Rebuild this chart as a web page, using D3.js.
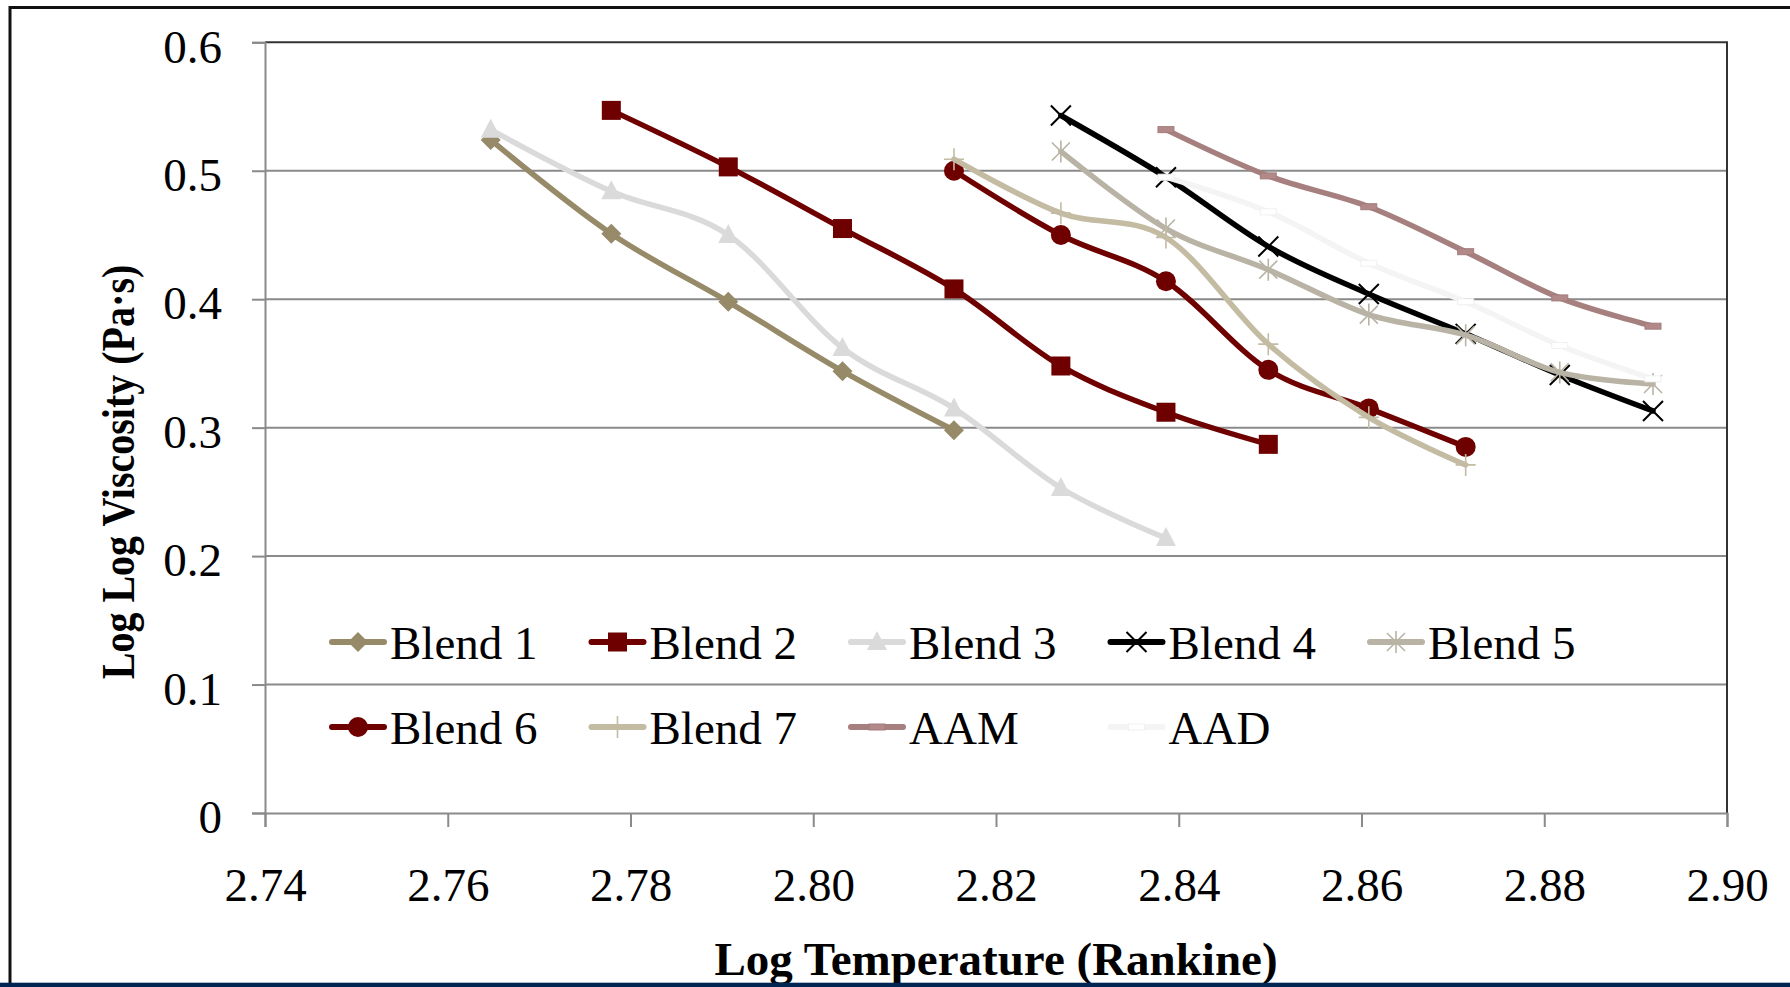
<!DOCTYPE html>
<html>
<head>
<meta charset="utf-8">
<script src="https://cdn.jsdelivr.net/npm/d3@7"></script>
<style>
  body { margin: 0; background: #fff; }
  svg { display: block; }
  text { font-family: "Liberation Serif", "Times New Roman", serif; fill: #000; }
</style>
</head>
<body>
<svg id="chart"></svg>
<script>
// Data
const temps = [2.7647, 2.7779, 2.7907, 2.8032, 2.8154, 2.8271, 2.8386, 2.8498, 2.8608, 2.8714, 2.8817, 2.8919];
const seriesNames = ["Blend 1", "Blend 2", "Blend 3", "Blend 4", "Blend 5", "Blend 6", "Blend 7", "AAM", "AAD"];
const seriesStart = [0, 1, 0, 5, 5, 4, 4, 6, 6]; // index into temps of first point
const blend1 = [0.524, 0.451, 0.398, 0.344, 0.298];
const blend2 = [0.547, 0.503, 0.455, 0.408, 0.348, 0.312, 0.287];
const blend3 = [0.532, 0.484, 0.450, 0.362, 0.315, 0.253, 0.214];
const blend4 = [0.543, 0.495, 0.441, 0.404, 0.373, 0.341, 0.313];
const blend5 = [0.515, 0.455, 0.423, 0.388, 0.372, 0.343, 0.334];
const blend6 = [0.500, 0.450, 0.414, 0.345, 0.315, 0.285];
const blend7 = [0.509, 0.467, 0.448, 0.365, 0.308, 0.271];
const aam = [0.532, 0.496, 0.472, 0.437, 0.401, 0.379];
const aad = [0.495, 0.468, 0.428, 0.398, 0.364, 0.338];
const seriesValues = [blend1, blend2, blend3, blend4, blend5, blend6, blend7, aam, aad];
const xTicks = [2.74, 2.76, 2.78, 2.80, 2.82, 2.84, 2.86, 2.88, 2.90];
const yTicks = [0, 0.1, 0.2, 0.3, 0.4, 0.5, 0.6];

// Styles
const colors = ["#968a69", "#6f0000", "#dadada", "#000000", "#b8b3a5", "#6f0000", "#c4bba3", "#a67f7f", "#f4f4f4"];
const markers = ["diamond", "square", "triangle", "x", "star", "circle", "plus", "dash", "dash"];

const W = 1790, H = 987;
const svg = d3.select("#chart").attr("width", W).attr("height", H);
svg.append("rect").attr("width", W).attr("height", H).attr("fill", "#fff");

const plotL = 265, plotR = 1727, plotT = 42.3, plotB = 813;
const x = d3.scaleLinear().domain([2.74, 2.90]).range([plotL, plotR]);
const y = d3.scaleLinear().domain([0, 0.6]).range([plotB, plotT]);

const gridColor = "#8a8a8a";

// gridlines
svg.append("g").selectAll("line")
  .data(yTicks.filter(d => d > 0 && d < 0.6))
  .enter().append("line")
    .attr("x1", plotL).attr("x2", plotR)
    .attr("y1", d => y(d)).attr("y2", d => y(d))
    .attr("stroke", gridColor).attr("stroke-width", 2);

// plot area top / right border
svg.append("path")
  .attr("d", `M${plotL},${plotT}H${plotR}V${plotB}`)
  .attr("fill", "none").attr("stroke", "#333").attr("stroke-width", 2);

// axes
const yAxis = svg.append("g").attr("transform", `translate(${plotL},0)`)
  .call(d3.axisLeft(y).tickValues(yTicks).tickSize(13).tickPadding(30)
    .tickFormat(d => d === 0 ? "0" : d3.format(".1f")(d)));
const xAxis = svg.append("g").attr("transform", `translate(0,${plotB})`)
  .call(d3.axisBottom(x).tickValues(xTicks).tickSize(14).tickPadding(40)
    .tickFormat(d3.format(".2f")));
[yAxis, xAxis].forEach(a => {
  a.select(".domain").attr("stroke", gridColor).attr("stroke-width", 2);
  a.selectAll(".tick line").attr("stroke", gridColor).attr("stroke-width", 2);
  a.selectAll(".tick text").attr("font-size", 47)
    .attr("font-family", "'Liberation Serif', serif").attr("fill", "#000");
});
yAxis.selectAll(".tick text").attr("dy", "0.42em");
xAxis.selectAll(".tick text").attr("dy", "0.72em");

// axis titles (y title is condensed along its length, like the original)
svg.append("text")
  .attr("transform", `translate(134,472) rotate(-90) scale(0.87,1)`)
  .attr("text-anchor", "middle")
  .attr("font-size", 46).attr("font-weight", "bold")
  .text("Log Log Viscosity (Pa·s)");
svg.append("text")
  .attr("x", (plotL + plotR) / 2).attr("y", 975)
  .attr("text-anchor", "middle")
  .attr("font-size", 47).attr("font-weight", "bold")
  .text("Log Temperature (Rankine)");

// marker drawing
function drawMarker(g, type, color) {
  if (type === "diamond") {
    g.append("path").attr("d", "M0,-10L10,0L0,10L-10,0Z").attr("fill", color);
  } else if (type === "square") {
    g.append("rect").attr("x", -9.5).attr("y", -9.5).attr("width", 19).attr("height", 19).attr("fill", color);
  } else if (type === "triangle") {
    g.append("path").attr("d", "M0,-11L10,8L-10,8Z").attr("fill", color);
  } else if (type === "circle") {
    g.append("circle").attr("r", 10).attr("fill", color);
  } else if (type === "x") {
    g.append("path").attr("d", "M-10,-10L10,10M-10,10L10,-10")
      .attr("stroke", color).attr("stroke-width", 2).attr("fill", "none");
  } else if (type === "star") {
    g.append("path").attr("d", "M-9,-9L9,9M-9,9L9,-9M0,-11L0,11")
      .attr("stroke", color).attr("stroke-width", 1.6).attr("fill", "none");
  } else if (type === "plus") {
    g.append("path").attr("d", "M0,-11L0,11M-10,0L10,0")
      .attr("stroke", color).attr("stroke-width", 1.6).attr("fill", "none");
  } else if (type === "dash") {
    g.append("rect").attr("x", -8).attr("y", -3).attr("width", 16).attr("height", 6)
      .attr("fill", d3.color(color).brighter(0.2))
      .attr("stroke", d3.color(color).darker(0.05)).attr("stroke-width", 1);
  }
}

const line = d3.line()
  .x(d => x(d[0])).y(d => y(d[1]))
  .curve(d3.curveCardinal.tension(0));

seriesValues.forEach((vals, i) => {
  const pts = vals.map((v, j) => [temps[seriesStart[i] + j], v]);
  const g = svg.append("g").attr("class", "series");
  g.append("path")
    .attr("d", line(pts))
    .attr("fill", "none").attr("stroke", colors[i]).attr("stroke-width", 5.5)
    .attr("stroke-linejoin", "round").attr("stroke-linecap", "round");
  pts.forEach(p => {
    const m = g.append("g").attr("transform", `translate(${x(p[0])},${y(p[1])})`);
    drawMarker(m, markers[i], colors[i]);
  });
});

// legend
const legCols = [330, 589.5, 849, 1108.5, 1368];
const legRows = [642, 727];
seriesNames.forEach((name, i) => {
  const lx = legCols[i % 5], ly = legRows[Math.floor(i / 5)];
  const g = svg.append("g").attr("transform", `translate(${lx},${ly})`);
  g.append("line").attr("x1", 2).attr("x2", 54)
    .attr("stroke", colors[i]).attr("stroke-width", 6).attr("stroke-linecap", "round");
  const m = g.append("g").attr("transform", "translate(28,0)");
  drawMarker(m, markers[i], colors[i]);
  g.append("text").attr("x", 60).attr("y", 17).attr("font-size", 47).text(name);
});

// outer chart frame
svg.append("path")
  .attr("d", `M10,${H}V7.5H${W}`)
  .attr("fill", "none").attr("stroke", "#111").attr("stroke-width", 3);
svg.append("rect").attr("x", 0).attr("y", 982.7).attr("width", W).attr("height", H - 982.7)
  .attr("fill", "#012654");
</script>
</body>
</html>
